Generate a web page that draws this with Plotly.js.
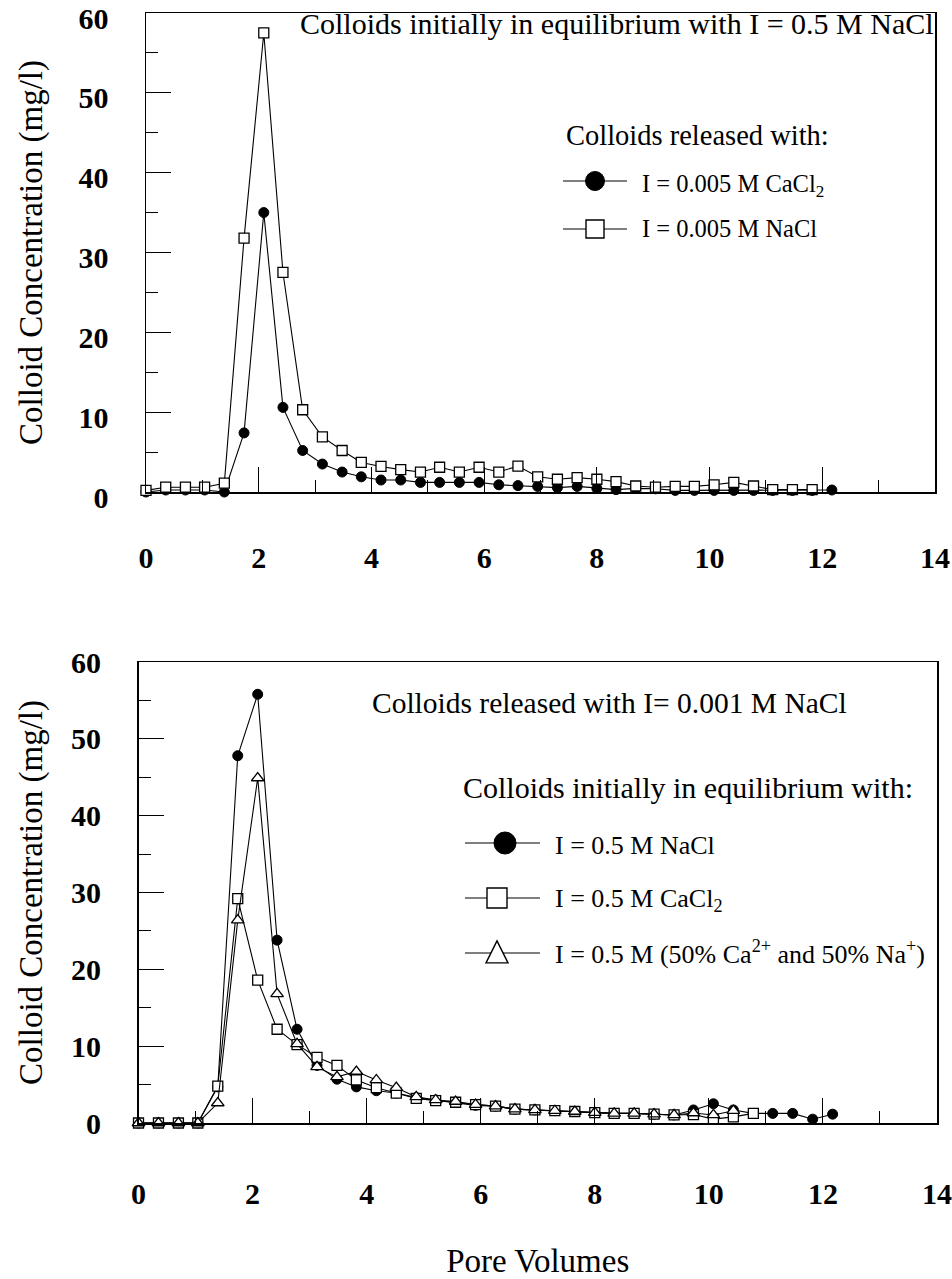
<!DOCTYPE html>
<html>
<head>
<meta charset="utf-8">
<script src="https://cdn.plot.ly/plotly-3.0.1.min.js"></script>
<style>html,body{margin:0;padding:0;background:#fff;}#chart{width:952px;height:1279px;}</style>
</head>
<body>
<div id="chart"></div>
<script>
// ---- data ----
const poreVolumes = [0, 0.35, 0.70, 1.04, 1.39, 1.74, 2.09, 2.43, 2.78, 3.13, 3.48, 3.82, 4.17, 4.52, 4.87, 5.21, 5.56, 5.91,
  6.26, 6.60, 6.95, 7.30, 7.65, 8.00, 8.34, 8.69, 9.04, 9.39, 9.73, 10.08, 10.43, 10.78, 11.12, 11.47, 11.82, 12.17];

// Top panel: colloids initially in equilibrium with I = 0.5 M NaCl
const topCaCl2 = [0, 0.25, 0.25, 0.25, 0, 7.4, 35.0, 10.6, 5.2, 3.5, 2.5, 1.9, 1.5, 1.5, 1.2, 1.2, 1.2, 1.2,
  0.9, 0.8, 0.7, 0.55, 0.7, 0.45, 0.3, 0.45, 0.4, 0.2, 0.2, 0.2, 0.2, 0.2, 0.2, 0.2, 0.2, 0.25];
const topNaCl = [0.2, 0.6, 0.6, 0.6, 1.1, 31.8, 57.5, 27.5, 10.3, 6.9, 5.2, 3.7, 3.2, 2.8, 2.5, 3.1, 2.5, 3.1,
  2.5, 3.25, 1.9, 1.6, 1.8, 1.6, 1.3, 0.75, 0.6, 0.7, 0.7, 0.9, 1.2, 0.75, 0.3, 0.3, 0.3];

// Bottom panel: colloids released with I = 0.001 M NaCl
const botNaCl = [0, 0, 0, 0, 4.7, 47.8, 55.8, 23.8, 12.2, 7.5, 5.7, 4.7, 4.2, 3.9, 3.3, 3.0, 2.7, 2.3,
  2.2, 1.8, 1.7, 1.6, 1.5, 1.35, 1.25, 1.25, 1.15, 1.05, 1.7, 2.5, 1.7, 1.25, 1.25, 1.25, 0.5, 1.15];
const botCaCl2 = [0, 0, 0, 0, 4.8, 29.2, 18.6, 12.2, 10.2, 8.55, 7.5, 5.6, 4.6, 3.9, 3.2, 2.9, 2.7, 2.4,
  2.2, 1.8, 1.7, 1.6, 1.5, 1.35, 1.25, 1.25, 1.15, 1.05, 1.1, 0.5, 0.8, 1.25];
const botMixed = [0, 0, 0, 0, 2.6, 26.4, 44.9, 16.8, 10.3, 7.3, 6.0, 6.7, 5.6, 4.6, 3.4, 3.0, 2.8, 2.4,
  2.2, 1.8, 1.7, 1.6, 1.5, 1.35, 1.25, 1.25, 1.15, 1.05, 1.3, 1.05, 1.6];

const xTickVals = [0, 2, 4, 6, 8, 10, 12, 14];
const yTickVals = [0, 10, 20, 30, 40, 50, 60];

const topLegendTitle = 'Colloids released with:';
const topLegendNames = ['I = 0.005 M CaCl<sub>2</sub>', 'I = 0.005 M NaCl'];
const topHeading = 'Colloids initially in equilibrium with I = 0.5 M NaCl';
const botHeading = 'Colloids released with I= 0.001 M NaCl';
const botLegendTitle = 'Colloids initially in equilibrium with:';
const botLegendNames = ['I = 0.5 M NaCl', 'I = 0.5 M CaCl<sub>2</sub>', 'I = 0.5 M (50% Ca<sup>2+</sup> and 50% Na<sup>+</sup>)'];
const yTitle = 'Colloid Concentration (mg/l)';
const xTitle = 'Pore Volumes';

// ---- layout helpers ----
const W = 952, H = 1279;
const SERIF = 'Liberation Serif, Times New Roman, serif';
const px = v => v / W;
const py = v => 1 - v / H;

const lineStyle = {color: 'black', width: 1.1};
const filledCircle = {symbol: 'circle', size: 10, color: 'black', line: {color: 'black', width: 1}};
const openSquare = {symbol: 'square', size: 10, color: 'white', line: {color: 'black', width: 1.3}};
const openTriangle = {symbol: 'triangle-up', size: 11, color: 'white', line: {color: 'black', width: 1.3}};

function trace(y, marker, xa, ya, name) {
  return {
    x: poreVolumes.slice(0, y.length), y: y, mode: 'lines+markers', name: name,
    line: lineStyle, marker: marker, xaxis: xa, yaxis: ya, cliponaxis: false, showlegend: false,
    hoverinfo: 'x+y'
  };
}

const data = [
  trace(topCaCl2, filledCircle, 'x', 'y', topLegendNames[0]),
  trace(topNaCl, openSquare, 'x', 'y', topLegendNames[1]),
  trace(botNaCl, filledCircle, 'x2', 'y2', botLegendNames[0]),
  trace(botCaCl2, openSquare, 'x2', 'y2', botLegendNames[1]),
  trace(botMixed, openTriangle, 'x2', 'y2', botLegendNames[2])
];

function xAxis(domain, anchor, standoff, title) {
  const ax = {
    domain: domain, anchor: anchor, range: [0, 14], tickvals: xTickVals, ticks: 'inside', ticklen: 25,
    tickwidth: 1, tickcolor: 'black', showline: true, linecolor: 'black', linewidth: 1.5, mirror: true,
    showgrid: false, zeroline: false, ticklabelstandoff: standoff, ticklabeloverflow: 'allow',
    tickfont: {family: SERIF, size: 30, color: 'black', weight: 'bold'},
    minor: {dtick: 1, ticks: 'inside', ticklen: 12, tickcolor: 'black', tickwidth: 1, showgrid: false}
  };
  if (title) ax.title = {text: title, font: {family: SERIF, size: 33, color: 'black'}, standoff: 44};
  return ax;
}
function yAxis(domain, anchor, titleStandoff, labelShift) {
  return {
    domain: domain, anchor: anchor, range: [0, 60], tickvals: yTickVals, ticks: 'inside', ticklen: 25,
    tickwidth: 1, tickcolor: 'black', showline: true, linecolor: 'black', linewidth: 1.5, mirror: true,
    showgrid: false, zeroline: false, ticklabelstandoff: 30, ticklabelshift: labelShift, ticklabeloverflow: 'allow',
    tickfont: {family: SERIF, size: 30, color: 'black', weight: 'bold'},
    minor: {dtick: 5, ticks: 'inside', ticklen: 12, tickcolor: 'black', tickwidth: 1, showgrid: false},
    title: {text: yTitle, font: {family: SERIF, size: 33, color: 'black'}, standoff: titleStandoff}
  };
}

// legend glyphs (drawn in page pixels)
const shapes = [];
const annotations = [];
function legendLine(x0, x1, y) {
  shapes.push({type: 'line', xref: 'paper', yref: 'paper', x0: px(x0), x1: px(x1), y0: py(y), y1: py(y),
    line: {color: 'black', width: 1.2}});
}
function legendCircle(cx, cy, d) {
  shapes.push({type: 'circle', xref: 'paper', yref: 'paper', x0: px(cx - d / 2), x1: px(cx + d / 2),
    y0: py(cy + d / 2), y1: py(cy - d / 2), fillcolor: 'black', line: {color: 'black', width: 1}});
}
function legendSquare(cx, cy, d) {
  shapes.push({type: 'rect', xref: 'paper', yref: 'paper', x0: px(cx - d / 2), x1: px(cx + d / 2),
    y0: py(cy + d / 2), y1: py(cy - d / 2), fillcolor: 'white', line: {color: 'black', width: 1.4}});
}
function legendTriangle(cx, cy, d) {
  const p = [[cx, cy - d * 0.55], [cx + d / 2, cy + d * 0.45], [cx - d / 2, cy + d * 0.45]];
  shapes.push({type: 'path', xref: 'paper', yref: 'paper',
    path: 'M' + p.map(q => px(q[0]) + ',' + py(q[1])).join(' L') + ' Z',
    fillcolor: 'white', line: {color: 'black', width: 1.4}});
}
function label(text, x, y, size) {
  annotations.push({text: text, xref: 'paper', yref: 'paper', x: px(x), y: py(y), xanchor: 'left', yanchor: 'middle',
    showarrow: false, font: {family: SERIF, size: size, color: 'black'}});
}

// top panel texts / legend
label(topHeading, 298, 24, 30);
label(topLegendTitle, 564, 135, 28.5);
legendLine(563, 627, 181); legendCircle(595, 181, 19); label(topLegendNames[0], 640, 185, 24.5);
legendLine(563, 627, 229); legendSquare(595, 229, 18); label(topLegendNames[1], 640, 229, 24.5);

// bottom panel texts / legend
label(botHeading, 370, 703, 29.5);
label(botLegendTitle, 461, 788, 30);
legendLine(465, 540, 843); legendCircle(505, 843, 22); label(botLegendNames[0], 553, 845, 26);
legendLine(465, 540, 898); legendSquare(497, 898, 20); label(botLegendNames[1], 553, 900, 26);
legendLine(465, 540, 953); legendTriangle(497, 953, 22); label(botLegendNames[2], 553, 953, 26);

const layout = {
  width: W, height: H, margin: {l: 0, r: 0, t: 0, b: 0},
  paper_bgcolor: 'white', plot_bgcolor: 'white', showlegend: false,
  font: {family: SERIF, color: 'black'},
  xaxis: xAxis([px(146), px(935)], 'y', 38, null),
  yaxis: yAxis([py(492), py(13)], 'x', 26, 5),
  xaxis2: xAxis([px(138.5), px(937)], 'y2', 43, xTitle),
  yaxis2: yAxis([py(1123), py(662)], 'x2', 18, 0),
  shapes: shapes, annotations: annotations
};

Plotly.newPlot('chart', data, layout, {displayModeBar: false, staticPlot: true});
</script>
</body>
</html>
